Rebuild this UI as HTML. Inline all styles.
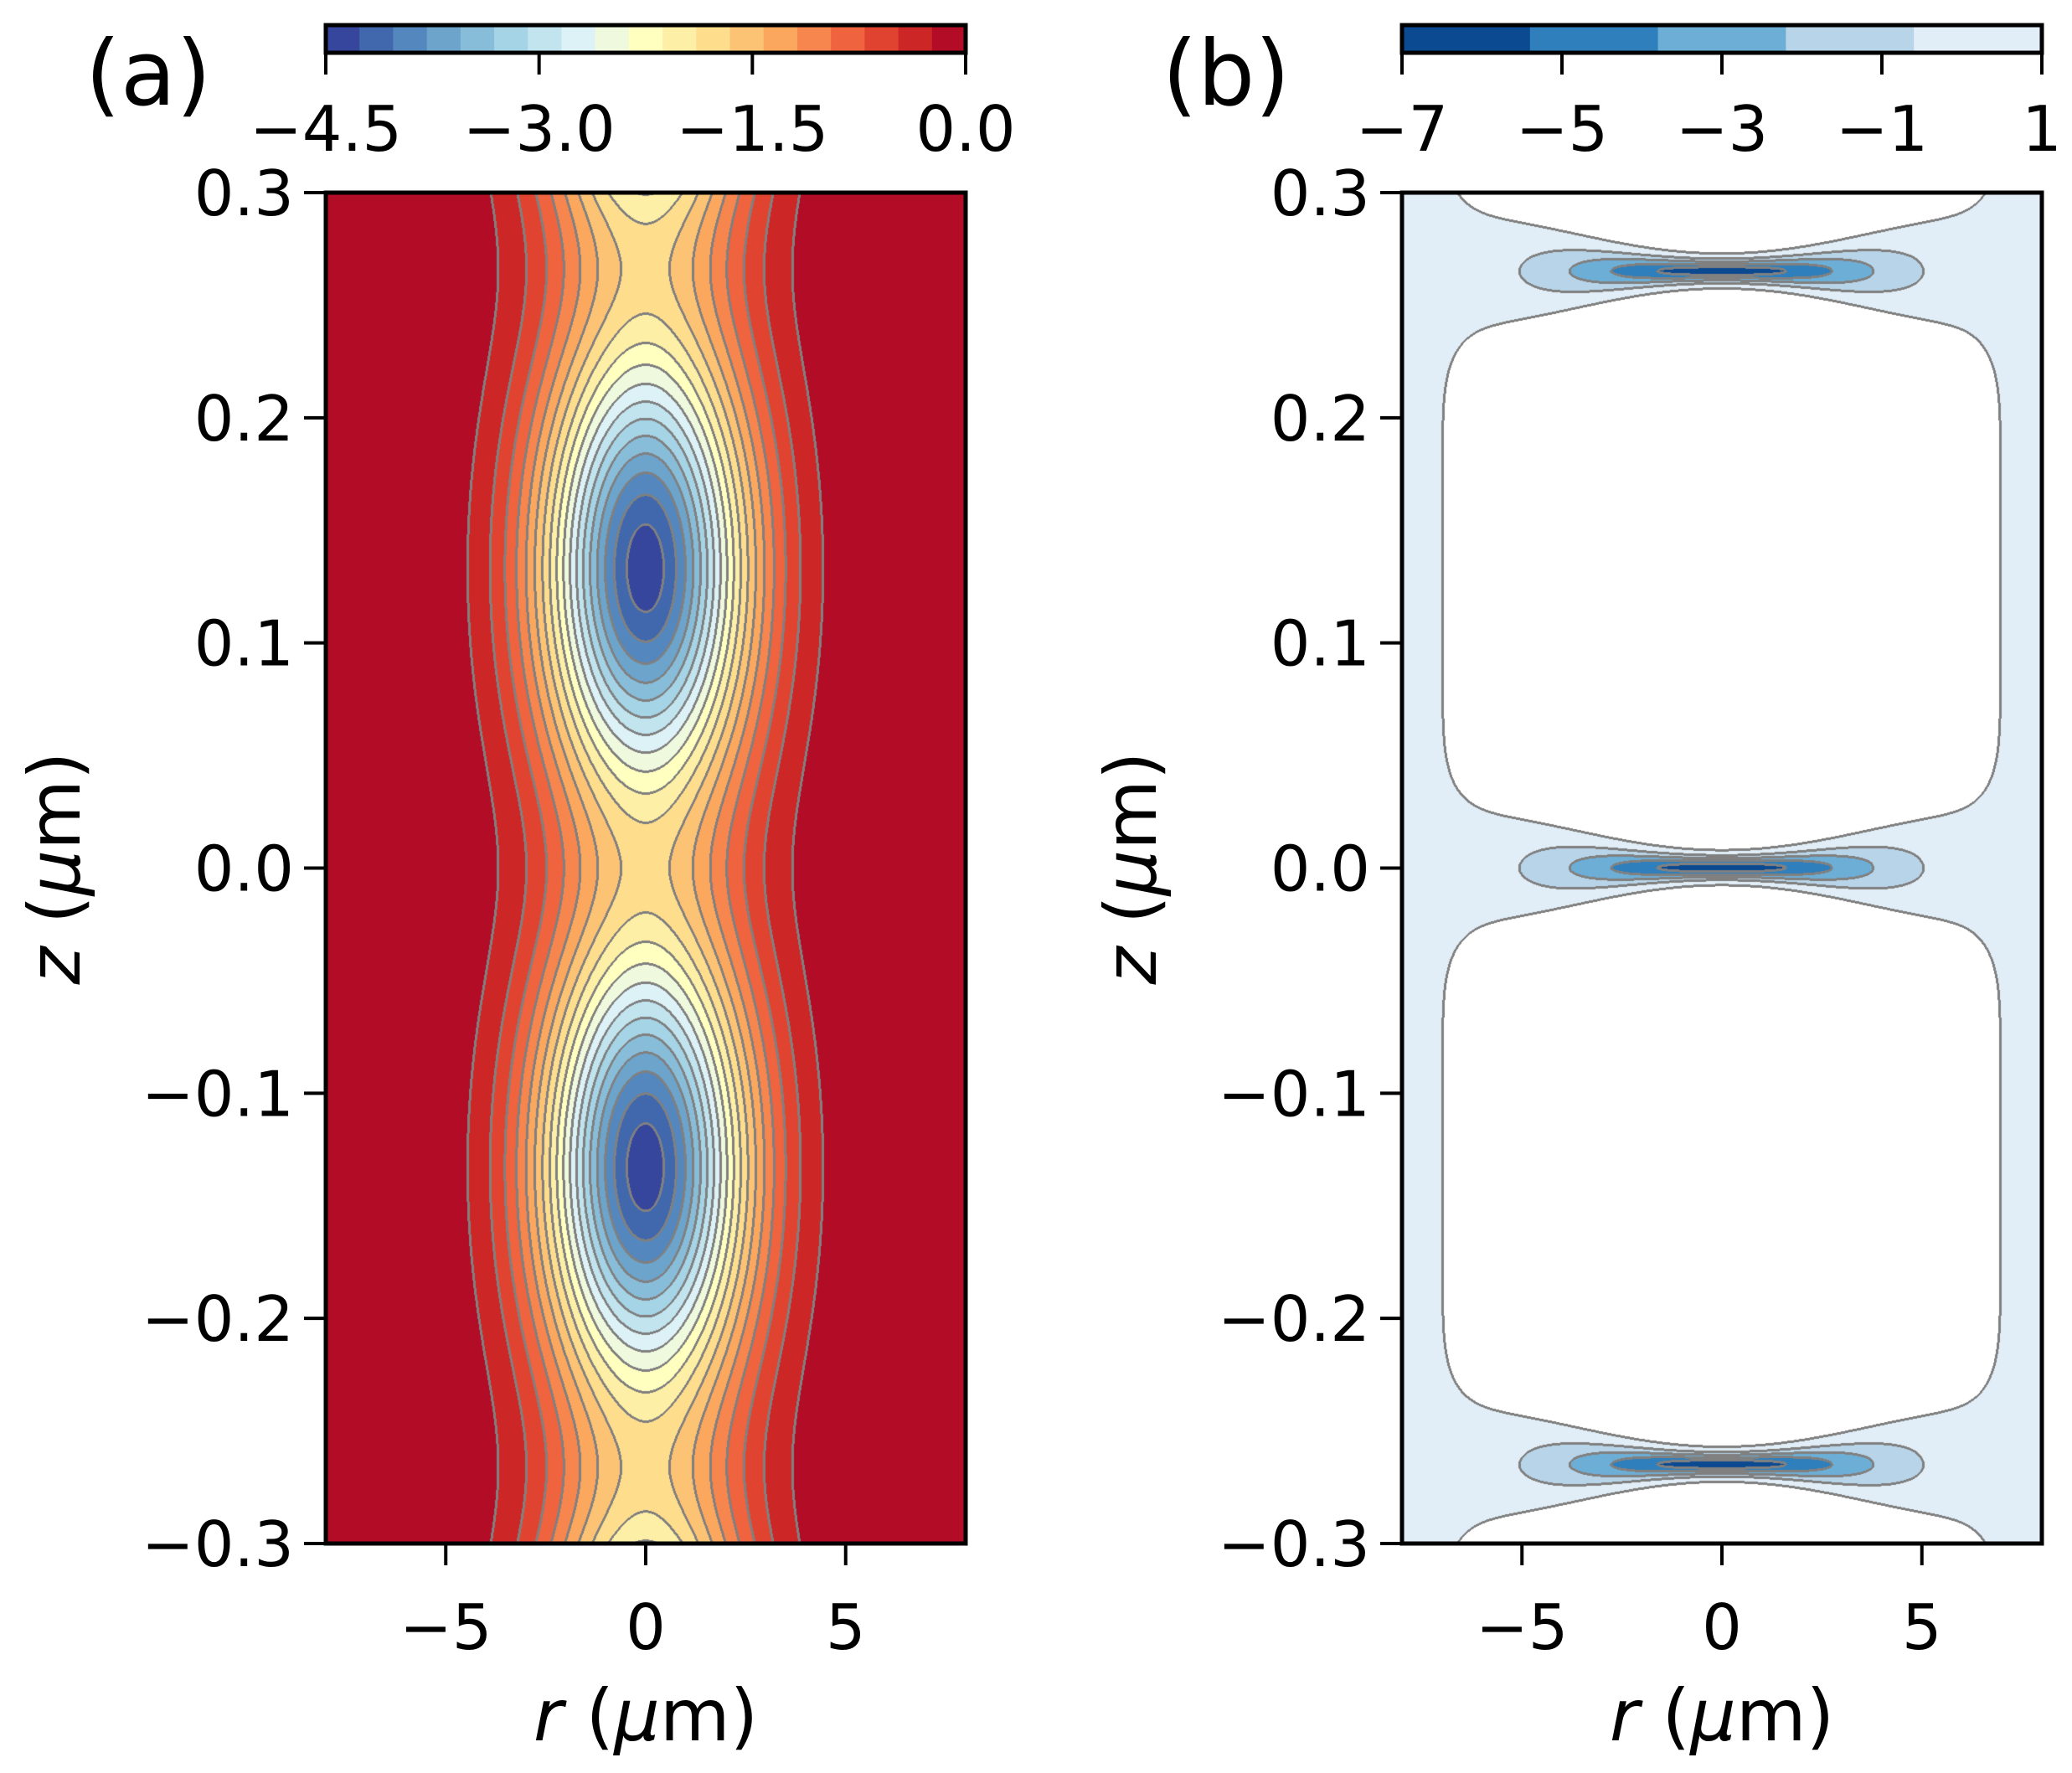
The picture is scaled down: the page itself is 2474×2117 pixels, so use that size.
<!DOCTYPE html>
<html><head><meta charset="utf-8">
<style>
html,body{margin:0;padding:0;background:#fff;}
#root{position:relative;width:2474px;height:2117px;overflow:hidden;font-family:"DejaVu Sans","Liberation Sans",sans-serif;}
canvas{position:absolute;}
svg{position:absolute;left:0;top:0;}
</style></head>
<body>
<div id="root">
<canvas id="ca" width="764" height="1613" style="left:389px;top:230px"></canvas>
<canvas id="cb" width="764" height="1613" style="left:1674px;top:230px"></canvas>
<svg id="ov" width="2474" height="2117" xmlns="http://www.w3.org/2000/svg"></svg>
</div>
<script>
var rTicks = [-5, 0, 5];
var rTickLabels = ["\u22125", "0", "5"];
var zTicks = [0.3, 0.2, 0.1, 0.0, -0.1, -0.2, -0.3];
var zTickLabels = ["0.3", "0.2", "0.1", "0.0", "\u22120.1", "\u22120.2", "\u22120.3"];
var aCbarTicks = [-4.5, -3.0, -1.5, 0.0];
var aCbarTickLabels = ["\u22124.5", "\u22123.0", "\u22121.5", "0.0"];
var bCbarTicks = [-7, -5, -3, -1, 1];
var bCbarTickLabels = ["\u22127", "\u22125", "\u22123", "\u22121", "1"];
var aColors = ["#36469d","#4168ad","#5487bd","#6ca4cc","#88bdda","#a5d4e6","#c1e4ef","#ddf2f7","#eff9dd","#ffffbf","#feefa6","#fedd8d","#fdc375","#fca75e","#f7854e","#ef633f","#e04430","#cd2627","#b20c26"];
var bColors = ["#0b4a90","#2f7fbc","#6daed6","#b8d4e9","#e1edf7"];
var aRange = [-4.5, 0.0];
var bRange = [-7, 1];
var aLobeZ = [-0.133, 0.133];
var aBaseline = [1.75];
var aLobeDepth = [2.65];
var aBeamWidth = [2.6];
var bNodeZ = [-0.265, 0.0, 0.265];
var bBackground = [0.2, 1.4, 7.5];
var bDipDepth = [8.0, 4.4];
var bDipWidth = [0.00484, 0.0085];

var R0 = -8, R1 = 8, Z0 = -0.3, Z1 = 0.3;
var AY0 = 230, AY1 = 1843;
var panels = [{x0:389, x1:1153}, {x0:1674, x1:2438}];
function xr(p, r){ return p.x0 + (r - R0) / (R1 - R0) * (p.x1 - p.x0); }
function yz(z){ return AY1 - (z - Z0) / (Z1 - Z0) * (AY1 - AY0); }

function evalA(r, z){
  var period = aLobeZ[1] - aLobeZ[0];
  var s = Math.sin(Math.PI * (z - aLobeZ[1]) / period + Math.PI / 2);
  var c = aBaseline[0] + aLobeDepth[0] * s * s;
  return -c * Math.exp(-Math.pow(r / aBeamWidth[0], 2));
}
function evalB(r, z){
  var dz = 1e9;
  for (var i = 0; i < bNodeZ.length; i++) dz = Math.min(dz, Math.abs(z - bNodeZ[i]));
  var ar = Math.abs(r);
  var H = bBackground[0] + bBackground[1] * Math.exp(-Math.pow(ar / bBackground[2], 8));
  var W = bDipDepth[0] * Math.exp(-Math.pow(ar / bDipDepth[1], 2));
  var sig = bDipWidth[0] + bDipWidth[1] * Math.pow(ar / 4, 2);
  return H - W * Math.exp(-Math.pow(dz / sig, 2));
}
function hexc(c){ return [parseInt(c.slice(1,3),16), parseInt(c.slice(3,5),16), parseInt(c.slice(5,7),16)]; }

function renderField(canvasId, field, range, colors, clampTop){
  var cv = document.getElementById(canvasId);
  var W = cv.width, H = cv.height;
  var ctx = cv.getContext('2d');
  var img = ctx.createImageData(W, H);
  var n = colors.length, step = (range[1] - range[0]) / n;
  var idx = new Int16Array(W * H);
  var px, py, i, k;
  for (py = 0; py < H; py++){
    var z = Z1 - (py + 0.5) / H * (Z1 - Z0);
    for (px = 0; px < W; px++){
      var r = R0 + (px + 0.5) / W * (R1 - R0);
      var v = field(r, z);
      k = Math.floor((v - range[0]) / step);
      if (k < 0) k = 0;
      if (k >= n) k = clampTop ? n - 1 : n;
      idx[py * W + px] = k;
    }
  }
  var rgb = colors.map(hexc);
  for (py = 0; py < H; py++){
    for (px = 0; px < W; px++){
      i = py * W + px; k = idx[i];
      var line = (px + 1 < W && idx[i + 1] !== k) || (px > 0 && idx[i - 1] !== k) ||
                 (px + 2 < W && idx[i + 2] !== k) ||
                 (py + 1 < H && idx[i + W] !== k) || (py > 0 && idx[i - W] !== k) ||
                 (py + 2 < H && idx[i + 2*W] !== k);
      var c = line ? [128,128,128] : (k >= n ? [255,255,255] : rgb[k]);
      img.data[i*4] = c[0]; img.data[i*4+1] = c[1]; img.data[i*4+2] = c[2]; img.data[i*4+3] = 255;
    }
  }
  ctx.putImageData(img, 0, 0);
}
try { renderField('ca', evalA, aRange, aColors, true); } catch(e) {}
try { renderField('cb', evalB, bRange, bColors, false); } catch(e) {}

var NS = "http://www.w3.org/2000/svg";
var svg = document.getElementById('ov');
function mk(tag, attrs, text){
  var e = document.createElementNS(NS, tag);
  for (var key in attrs) e.setAttribute(key, attrs[key]);
  if (text !== undefined) e.appendChild(document.createTextNode(text));
  svg.appendChild(e);
  return e;
}
function addSpan(parent, txt, italic){
  var t = document.createElementNS(NS, 'tspan');
  if (italic) t.setAttribute('font-style', 'italic');
  t.appendChild(document.createTextNode(txt));
  parent.appendChild(t);
}
var FS = 75;
var panelNames = ['a','b'];
panels.forEach(function(p, pi){
  var nm = panelNames[pi];
  var colors = pi === 0 ? aColors : bColors;
  var range = pi === 0 ? aRange : bRange;
  var cbT = pi === 0 ? aCbarTicks : bCbarTicks;
  var cbL = pi === 0 ? aCbarTickLabels : bCbarTickLabels;
  var cx0 = p.x0, cx1 = p.x1, cy0 = 30, cy1 = 63;
  var cw = (cx1 - cx0) / colors.length;
  colors.forEach(function(c, i){
    var r = mk('rect', {x: cx0 + i*cw, y: cy0, width: cw + 0.6, height: cy1 - cy0, fill: c});
    
    
  });
  var cbf = mk('rect', {x: cx0, y: cy0, width: cx1 - cx0, height: cy1 - cy0, fill: 'none', stroke: '#000', 'stroke-width': 5});
  
  
  cbT.forEach(function(t, i){
    var x = cx0 + (t - range[0]) / (range[1] - range[0]) * (cx1 - cx0);
    var tk = mk('line', {x1: x, x2: x, y1: cy1, y2: cy1 + 26, stroke: '#000', 'stroke-width': 4});
    
    
    var tl = mk('text', {x: x, y: 180, 'font-size': FS, 'text-anchor': 'middle'}, cbL[i]);
    
    
  });
  var fr = mk('rect', {x: p.x0, y: AY0, width: p.x1 - p.x0, height: AY1 - AY0, fill: 'none', stroke: '#000', 'stroke-width': 5});
  
  
  rTicks.forEach(function(t, i){
    var x = xr(p, t);
    var tk = mk('line', {x1: x, x2: x, y1: AY1, y2: AY1 + 26, stroke: '#000', 'stroke-width': 4});
    
    
    var tl = mk('text', {x: x, y: 1969, 'font-size': FS, 'text-anchor': 'middle'}, rTickLabels[i]);
    
    
  });
  zTicks.forEach(function(t, i){
    var y = yz(t);
    var tk = mk('line', {x1: p.x0 - 26, x2: p.x0, y1: y, y2: y, stroke: '#000', 'stroke-width': 4});
    
    
    var tl = mk('text', {x: p.x0 - 38, y: y + 27, 'font-size': FS, 'text-anchor': 'end'}, zTickLabels[i]);
    
    
  });
  var xl = mk('text', {x: (p.x0 + p.x1) / 2, y: 2078, 'font-size': 86, 'text-anchor': 'middle'});
  addSpan(xl, 'r', true); addSpan(xl, ' (', false); addSpan(xl, '\u03bc', true); addSpan(xl, 'm)', false);
  
  
  var yx = p.x0 - 294, yc = (AY0 + AY1) / 2;
  var yl = mk('text', {x: yx, y: yc, 'font-size': 86, 'text-anchor': 'middle', transform: 'rotate(-90 ' + yx + ' ' + yc + ')'});
  addSpan(yl, 'z', true); addSpan(yl, ' (', false); addSpan(yl, '\u03bc', true); addSpan(yl, 'm)', false);
  
  
  var pl = mk('text', {x: pi === 0 ? 177 : 1464, y: 125, 'font-size': 108, 'text-anchor': 'middle'}, '(' + nm + ')');
  
  
});
</script>
</body></html>
